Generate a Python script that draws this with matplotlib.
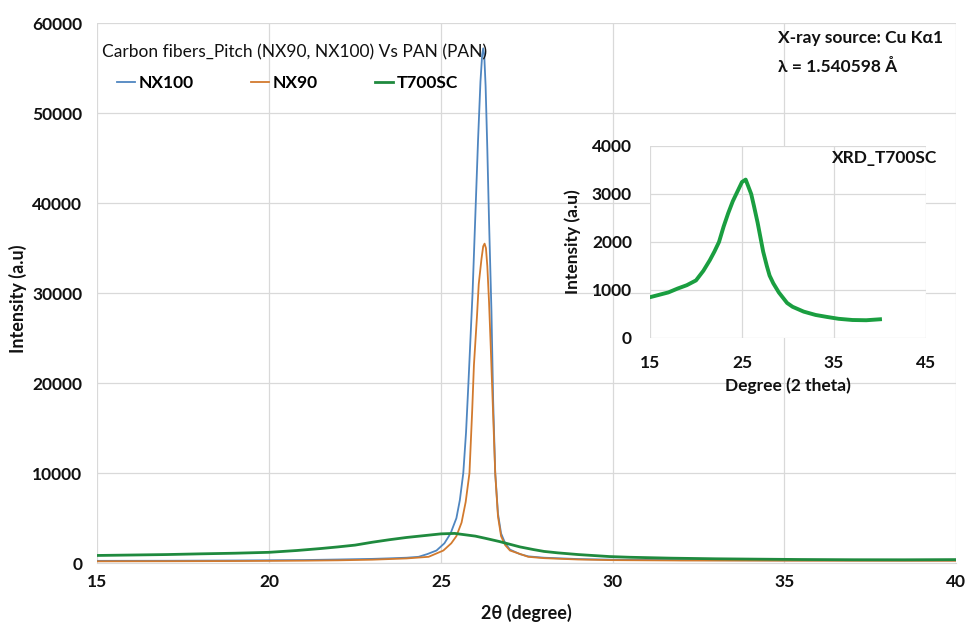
import matplotlib
matplotlib.use("Agg")
import matplotlib.pyplot as plt

plt.rcParams['font.family'] = ['Lato', 'DejaVu Sans']

# NX100 (pitch fiber)
nx100_x = [15, 17, 19, 21, 22, 23, 23.5, 24.0, 24.35, 24.6, 24.87, 25.1, 25.28, 25.45,
           25.55, 25.65, 25.73, 25.8, 25.92, 26.0, 26.08, 26.15, 26.2, 26.23, 26.26,
           26.3, 26.35, 26.40, 26.47, 26.52, 26.58, 26.66, 26.75, 26.87, 27.01, 27.3,
           27.54, 28.0, 29, 30, 32, 35, 40]
nx100_y = [250, 260, 290, 340, 400, 470, 530, 600, 700, 1000, 1400, 2200, 3300, 5000,
           7000, 10000, 14500, 20000, 30000, 38500, 47000, 53500, 56500, 57200, 56500,
           53000, 46000, 38000, 28000, 18000, 10000, 5500, 3300, 2200, 1500, 1000,
           750, 600, 450, 380, 330, 310, 300]

# NX90 (pitch fiber)
nx90_x = [15, 17, 19, 21, 22, 23, 23.5, 24.0, 24.64, 25.07, 25.3, 25.45, 25.6, 25.72,
          25.83, 25.91, 25.96, 26.05, 26.10, 26.18, 26.23, 26.27, 26.31, 26.35, 26.40,
          26.45, 26.51, 26.58, 26.66, 26.75, 26.87, 27.01, 27.54, 28, 29, 30, 32, 35, 40]
nx90_y = [200, 210, 230, 270, 310, 380, 450, 520, 700, 1400, 2200, 3000, 4500, 6800,
          10000, 17000, 22000, 27500, 31000, 33800, 35200, 35500, 35000, 33000, 29000,
          24000, 17500, 10000, 5200, 3000, 2000, 1400, 700, 550, 400, 330, 290, 270, 260]

# T700SC (PAN fiber), also shown in the inset
t700_x = [15, 16, 17, 18, 19, 20, 20.8, 21.5, 22, 22.5, 23, 23.5, 24, 24.5, 25, 25.4,
          25.7, 26, 26.3, 26.7, 27.0, 27.3, 27.7, 28.0, 28.4, 29, 29.9, 30.5, 31.7, 33,
          34.2, 35.5, 37, 38.5, 40]
t700_y = [850, 900, 950, 1030, 1100, 1200, 1400, 1620, 1800, 2000, 2320, 2600, 2850, 3050,
          3250, 3300, 3150, 3000, 2750, 2400, 2100, 1800, 1500, 1300, 1140, 950, 730, 650,
          550, 480, 440, 400, 375, 370, 390]

blue = '#4f86c0'
orange = '#d27a2e'
green = '#1f8a3e'
grid_c = '#d9d9d9'
txt = '#111111'
fs = 12.5

fig = plt.figure(figsize=(9.67, 6.32), dpi=100)
ax = fig.add_axes([0.1008, 0.109, 0.8880, 0.8544])

ax.plot(nx100_x, nx100_y, color=blue, lw=1.3, label='NX100')
ax.plot(nx90_x, nx90_y, color=orange, lw=1.3, label='NX90')
ax.plot(t700_x, t700_y, color=green, lw=2.0, label='T700SC')

ax.set_xlim(15, 40)
ax.set_ylim(0, 60000)
ax.set_xticks([15, 20, 25, 30, 35, 40])
ax.set_yticks(range(0, 60001, 10000))
ax.grid(True, color=grid_c, lw=0.9)
ax.set_axisbelow(True)
for s in ['top', 'right', 'left']:
    ax.spines[s].set_visible(False)
ax.spines['bottom'].set_color(grid_c)
ax.tick_params(axis='y', length=0, labelsize=fs, colors=txt, pad=11)
ax.tick_params(axis='x', length=0, labelsize=fs, colors=txt, pad=8)
for lab in ax.get_xticklabels() + ax.get_yticklabels():
    lab.set_fontweight('bold')
ax.set_xlabel('2θ (degree)', fontsize=13, fontweight='bold', color=txt, labelpad=10)
ax.set_ylabel('Intensity (a.u)', fontsize=13, fontweight='bold', color=txt)
ax.yaxis.set_label_coords(-0.082, 0.49)

fig.text(102 / 967, 1 - 52 / 632, 'Carbon fibers_Pitch (NX90, NX100) Vs PAN (PAN)',
         fontsize=fs, color=txt, ha='left', va='center')
leg = ax.legend(ncol=3, loc='center left', bbox_to_anchor=(117 / 967, 1 - 83 / 632),
                bbox_transform=fig.transFigure, frameon=False, borderpad=0,
                borderaxespad=0, handlelength=1.05, handletextpad=0.2,
                columnspacing=3.3, prop={'size': fs, 'weight': 'bold'})

fig.text(778 / 967, 1 - 38 / 632, 'X-ray source: Cu Kα1', fontsize=fs, fontweight='bold',
         color=txt, ha='left', va='center')
fig.text(778 / 967, 1 - 67 / 632, 'λ = 1.540598 Å', fontsize=fs, fontweight='bold',
         color=txt, ha='left', va='center')

# inset
ins = fig.add_axes([650 / 967, 1 - 338 / 632, 276 / 967, 192 / 632])
ins.plot(t700_x, t700_y, color='#1a9e40', lw=2.8)
ins.set_xlim(15, 45)
ins.set_ylim(0, 4000)
ins.set_xticks([15, 25, 35, 45])
ins.set_yticks([0, 1000, 2000, 3000, 4000])
ins.grid(True, color=grid_c, lw=0.9)
ins.set_axisbelow(True)
ins.set_facecolor('white')
for s in ins.spines.values():
    s.set_visible(False)
ins.tick_params(axis='y', length=0, labelsize=fs, colors=txt, pad=13)
ins.tick_params(axis='x', length=0, labelsize=fs, colors=txt, pad=12)
for lab in ins.get_xticklabels() + ins.get_yticklabels():
    lab.set_fontweight('bold')
ins.set_xlabel('Degree (2 theta)', fontsize=fs, fontweight='bold', color=txt, labelpad=5)
ins.set_ylabel('Intensity (a.u)', fontsize=fs, fontweight='bold', color=txt)
ins.yaxis.set_label_coords(-0.25, 0.5)
fig.text(937 / 967, 1 - 158 / 632, 'XRD_T700SC', fontsize=fs, fontweight='bold',
         color=txt, ha='right', va='center')

fig.savefig('out.png', dpi=100, facecolor='white')
